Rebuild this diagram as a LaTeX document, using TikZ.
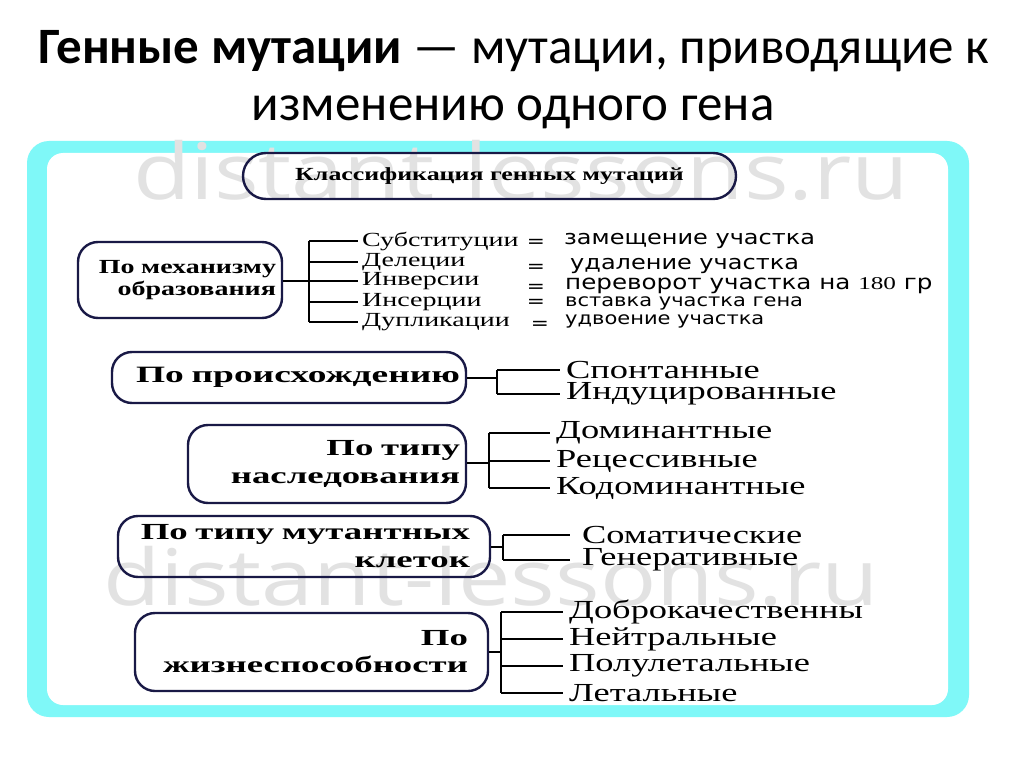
\documentclass[tikz,border=0pt]{standalone}
\usepackage{fontspec}
\newfontfamily\titlefont{Carlito}
\newfontfamily\sr{Liberation Serif}[FakeStretch=1.4]
\newfontfamily\sbold{Liberation Serif Bold}[FakeStretch=1.6]
\newfontfamily\sboldn{Liberation Serif Bold}[FakeStretch=1.4]
\newfontfamily\ds{DejaVu Sans}[FakeStretch=1.2]
\newfontfamily\wm{Open Sans}[FakeStretch=1.2]
\definecolor{framecyan}{RGB}{127,248,248}
\definecolor{navy}{RGB}{25,25,70}
\definecolor{wmgray}{RGB}{226,226,226}
\tikzset{
  box/.style={draw=navy, line width=2.4pt, rounded corners=20pt, inner ysep=0pt, align=right, font=\sbold\fontsize{23}{28}\selectfont},
  item/.style={anchor=west, inner ysep=0pt, inner xsep=6pt, font=\sr\fontsize{26}{26}\selectfont},
  sub/.style={anchor=west, inner ysep=0pt, inner xsep=4pt, font=\sr\fontsize{20}{20}\selectfont},
  defn/.style={anchor=west, inner sep=0pt, font=\ds\fontsize{20}{20}\selectfont},
  eq/.style={inner sep=0pt, font=\ds\fontsize{18}{18}\selectfont},
  conn/.style={line width=1.5pt, black},
  wmark/.style={anchor=base west, inner sep=0pt, text=wmgray, font=\wm\fontsize{78}{78}\selectfont},
}
\begin{document}
\begin{tikzpicture}[x=1pt,y=-1pt]
\useasboundingbox (0,0) rectangle (1024,767);
\fill[white] (0,0) rectangle (1024,767);
% title
\node[font=\titlefont\fontsize{51}{51}\selectfont, anchor=base] (t1) at (514,64) {\textbf{Генные мутации} — мутации, приводящие к};
\node[font=\titlefont\fontsize{51}{51}\selectfont, anchor=base] (t2) at (513,121) {изменению одного гена};
% frame
\fill[framecyan, rounded corners=22pt] (27,141) rectangle (969,717);
\fill[white, rounded corners=16pt] (47,153) rectangle (948,705);
% watermarks
\node[wmark] (wm1) at (133,200) {distant-lessons.ru};
\node[wmark] (wm2) at (103,605) {distant-lessons.ru};
% title box
\node[box, align=center, minimum width=493pt, minimum height=46pt, inner xsep=0pt, rounded corners=23pt, font=\sboldn\fontsize{18.5}{18.5}\selectfont] (top) at (489.5,176) {Классификация генных мутаций};
% box 1
\node[box, minimum height=76pt, text width=192pt, inner xsep=6pt, font=\sboldn\fontsize{20}{22}\selectfont] (b1) at (180,280) {По механизму\\образования};
\coordinate (sp1) at (309,281);
\node[sub] (s1) at (358,241) {Субституции};
\node[sub] (s2) at (358,262) {Делеции};
\node[sub] (s3) at (358,281) {Инверсии};
\node[sub] (s4) at (358,302) {Инсерции};
\node[sub] (s5) at (358,322) {Дупликации};
\draw[conn] (b1.east |- sp1) -- (sp1);
\draw[conn] (sp1 |- s1) -- (sp1 |- s5);
\foreach \n in {s1,s2,s3,s4,s5} \draw[conn] (sp1 |- \n) -- (\n.west);
\node[eq] (e1) at (536,243) {=};
\node[eq] (e2) at (536,268) {=};
\node[eq] (e3) at (536,288) {=};
\node[eq] (e4) at (536,303) {=};
\node[eq] (e5) at (540,325) {=};
\node[defn] (d1) at (564,241) {замещение участка};
\node[defn] (d2) at (570,266) {удаление участка};
\node[defn, font=\ds\fontsize{20.5}{20}\selectfont] (d3) at (565,286) {переворот участка на {\sr\fontsize{18}{18}\selectfont 180} гр};
\node[defn, font=\ds\fontsize{17.5}{17}\selectfont] (d4) at (565,303) {вставка участка гена};
\node[defn, font=\ds\fontsize{17.5}{17}\selectfont] (d5) at (565,321) {удвоение участка};
% box 2
\node[box, minimum height=51pt, text width=342pt, inner xsep=6pt, font=\sbold\fontsize{23.4}{23}\selectfont] (b2) at (289,377.5) {По происхождению};
\coordinate (sp2) at (497,378);
\node[item] (o1) at (560,370) {Спонтанные};
\node[item] (o2) at (560,394) {Индуцированные};
\draw[conn] (b2.east |- sp2) -- (sp2);
\draw[conn] (sp2 |- o1) -- (sp2 |- o2);
\foreach \n in {o1,o2} \draw[conn] (sp2 |- \n) -- (\n.west);
% box 3
\node[box, minimum height=78pt, text width=266pt, inner xsep=6pt] (b3) at (327,464) {По типу\\наследования};
\coordinate (sp3) at (489,463);
\node[item] (i1) at (550,433) {Доминантные};
\node[item] (i2) at (550,461) {Рецессивные};
\node[item] (i3) at (550,488) {Кодоминантные};
\draw[conn] (b3.east |- sp3) -- (sp3);
\draw[conn] (sp3 |- i1) -- (sp3 |- i3);
\foreach \n in {i1,i2,i3} \draw[conn] (sp3 |- \n) -- (\n.west);
% box 4
\node[box, minimum height=61pt, text width=332pt, inner xsep=20pt] (b4) at (304,546.5) {По типу мутантных\\клеток};
\coordinate (sp4) at (503,547);
\node[item, inner xsep=12pt] (c1) at (570,535) {Соматические};
\node[item, inner xsep=12pt] (c2) at (570,560) {Генеративные};
\draw[conn] (b4.east |- sp4) -- (sp4);
\draw[conn] (sp4 |- c1) -- (sp4 |- c2);
\foreach \n in {c1,c2} \draw[conn] (sp4 |- \n) -- (\n.west);
% box 5
\node[box, minimum height=78pt, text width=313pt, inner xsep=20pt, font=\sbold\fontsize{23}{27}\selectfont] (b5) at (311.5,652) {По\\жизнеспособности};
\coordinate (sp5) at (501,652);
\node[item] (v1) at (563,612) {Доброкачественны};
\node[item] (v2) at (563,639) {Нейтральные};
\node[item] (v3) at (563,666) {Полулетальные};
\node[item] (v4) at (563,693) {Летальные};
\draw[conn] (b5.east |- sp5) -- (sp5);
\draw[conn] (sp5 |- v1) -- (sp5 |- v4);
\foreach \n in {v1,v2,v3,v4} \draw[conn] (sp5 |- \n) -- (\n.west);
\end{tikzpicture}
\end{document}
